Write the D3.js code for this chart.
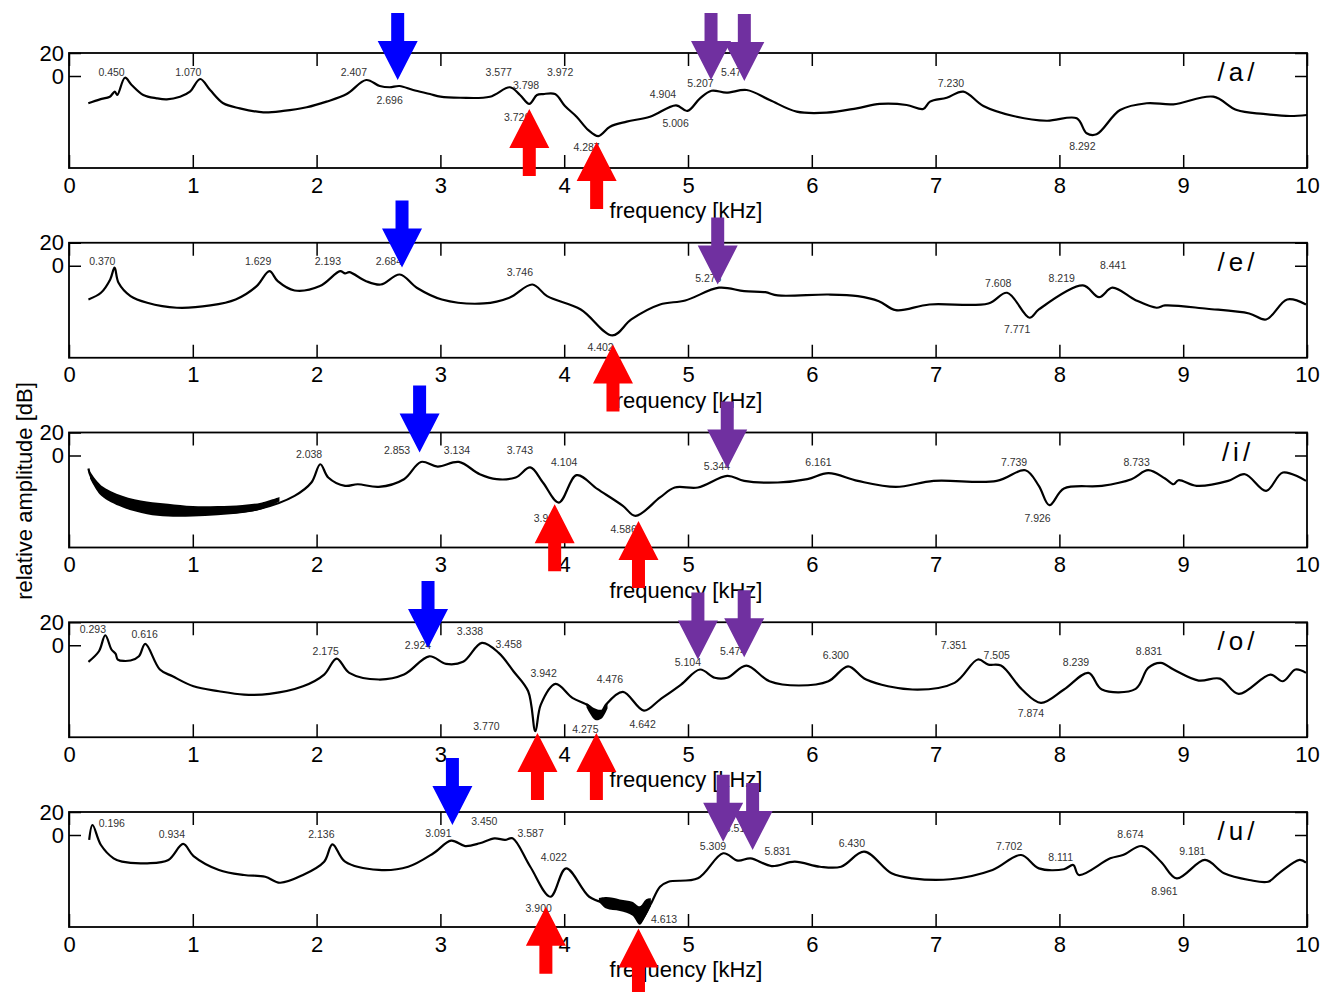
<!DOCTYPE html>
<html><head><meta charset="utf-8">
<script src="https://cdn.jsdelivr.net/npm/d3@7"></script>
<style>body{margin:0;background:#fff}</style></head>
<body>
<svg id="c" width="1320" height="992"></svg>
<script>
// ---------------- DATA ----------------
const freqTicks = [0,1,2,3,4,5,6,7,8,9,10];
const dbTicks = [0,20];
const vowels = ["/a/","/e/","/i/","/o/","/u/"];
const xTitle = "frequency [kHz]";
const yTitle = "relative amplitude [dB]";

// spectra: [kHz, dB]
const curveA = [[0.156,-23.7],[0.25,-20.3],[0.33,-18],[0.37,-13.6],[0.39,-16.5],[0.452,-1.5],[0.506,-7.8],[0.60,-16.5],[0.708,-19.4],[0.79,-20.3],[0.897,-18],[0.977,-13.6],[1.06,-2.6],[1.14,-12.2],[1.246,-23.7],[1.38,-28.1],[1.57,-31.6],[1.73,-30.4],[1.92,-27.2],[2.08,-22.3],[2.243,-15.7],[2.40,-3.5],[2.51,-8.7],[2.59,-9.8],[2.67,-8.7],[2.78,-12.2],[2.916,-15.7],[3.0,-18],[3.16,-18.9],[3.40,-18],[3.562,-9.8],[3.643,-16.5],[3.718,-24.3],[3.78,-16.5],[3.83,-15.7],[3.926,-15.7],[4.006,-26.1],[4.10,-35.4],[4.195,-47],[4.276,-52.2],[4.37,-44.1],[4.505,-39.7],[4.693,-35.4],[4.903,-25.5],[4.995,-30.4],[5.097,-19.4],[5.19,-12.8],[5.31,-14.5],[5.474,-12.2],[5.66,-20.9],[5.878,-31],[6.12,-31.9],[6.363,-28.1],[6.55,-24.3],[6.766,-25.2],[6.90,-28.7],[6.955,-22.3],[7.09,-18.9],[7.224,-13.6],[7.386,-26.1],[7.628,-34.8],[7.897,-38.9],[8.14,-36.8],[8.22,-49.8],[8.30,-50.7],[8.49,-29.6],[8.705,-23.7],[8.92,-24.6],[9.243,-18],[9.432,-29.6],[9.647,-33],[9.863,-34.8],[10.0,-33.9]];
const curveE = [[0.157,-29.3],[0.258,-23.5],[0.333,-11.9],[0.368,-1.7],[0.40,-14.8],[0.497,-26.4],[0.632,-32.2],[0.871,-36.5],[1.142,-34.5],[1.346,-29.3],[1.516,-17.7],[1.619,-4.7],[1.686,-13.4],[1.822,-21.5],[2.027,-17.7],[2.19,-4.7],[2.23,-6.7],[2.264,-5.6],[2.40,-13.4],[2.519,-16.3],[2.672,-7.6],[2.809,-19.1],[3.012,-29.3],[3.352,-32.8],[3.557,-27.8],[3.743,-16.3],[3.862,-26.4],[4.134,-38],[4.39,-60.6],[4.542,-46.7],[4.774,-33.7],[4.978,-30.2],[5.25,-19.1],[5.454,-22.1],[5.624,-23],[5.725,-25.8],[6.134,-25],[6.372,-26.4],[6.542,-30.8],[6.678,-38.6],[6.95,-33.7],[7.426,-32.8],[7.578,-23.5],[7.759,-45.2],[7.834,-38],[8.19,-17.1],[8.32,-27.3],[8.428,-19.1],[8.616,-29.9],[8.785,-36.5],[8.853,-34.5],[9.193,-37.4],[9.533,-41.5],[9.67,-46.7],[9.84,-29.3],[9.992,-33.7]];
const curveI = [[0.157,-11.3],[0.174,-17.7],[0.258,-30.8],[0.428,-40.9],[0.632,-45.2],[0.973,-48.2],[1.313,-49.6],[1.55,-46.1],[1.822,-35.1],[1.958,-23.5],[2.03,-7.6],[2.094,-19.1],[2.23,-26.4],[2.332,-25],[2.502,-27.3],[2.706,-20.6],[2.843,-5.6],[2.978,-9.6],[3.149,-5.6],[3.318,-16.3],[3.454,-20.6],[3.608,-19.1],[3.726,-10.4],[3.828,-23.5],[3.957,-40.9],[4.10,-17.1],[4.27,-29.3],[4.474,-43.8],[4.576,-52.5],[4.774,-36.5],[4.893,-27.8],[5.08,-27.8],[5.317,-17.7],[5.454,-22.1],[5.725,-23.5],[5.964,-20.6],[6.134,-15.4],[6.372,-22.1],[6.678,-27.3],[6.984,-22.1],[7.494,-22.1],[7.725,-12.8],[7.834,-26.4],[7.919,-43.2],[8.037,-28.7],[8.343,-26.4],[8.582,-20.6],[8.717,-12.8],[8.853,-20],[8.922,-25],[8.962,-21.5],[9.108,-26.4],[9.363,-22.1],[9.499,-16.3],[9.67,-30.8],[9.805,-14.8],[9.992,-22.1]];
const curveO = [[0.157,-14.4],[0.242,-5.2],[0.293,8.7],[0.343,-3.7],[0.377,-7.5],[0.394,-12.4],[0.497,-13.3],[0.565,-9.6],[0.616,1.2],[0.734,-21.1],[0.837,-27],[1.006,-35.7],[1.211,-40],[1.414,-42.9],[1.619,-42.3],[1.89,-35.7],[2.061,-25.5],[2.162,-11.6],[2.264,-24],[2.502,-29.8],[2.706,-25.5],[2.91,-9.6],[3.046,-16.2],[3.183,-14.4],[3.335,2.1],[3.471,-6.6],[3.59,-22.6],[3.709,-40],[3.767,-74.8],[3.811,-51.6],[3.93,-33.6],[4.066,-45.7],[4.202,-53],[4.277,-63.1],[4.338,-51.6],[4.474,-40.5],[4.644,-56.8],[4.774,-47.2],[4.944,-34.2],[5.097,-21.1],[5.216,-28.3],[5.317,-28.3],[5.471,-17.7],[5.658,-31.3],[5.896,-35],[6.134,-31.3],[6.293,-18.3],[6.439,-29.8],[6.813,-38.5],[7.153,-32.7],[7.341,-12.4],[7.426,-16.8],[7.528,-17.7],[7.698,-38.5],[7.851,-50.1],[8.037,-38.5],[8.235,-24],[8.343,-38.5],[8.616,-37.9],[8.717,-19.7],[8.82,-15.3],[8.922,-21.1],[9.125,-30.7],[9.296,-29],[9.448,-42.3],[9.704,-25.5],[9.805,-31.3],[9.907,-21.1],[9.992,-24]];
const curveU = [[0.163,-4.3],[0.19,8.7],[0.258,-8.7],[0.36,-20.3],[0.428,-23.2],[0.632,-24.6],[0.803,-21.7],[0.922,-7.8],[1.006,-18.3],[1.211,-30.4],[1.414,-34.8],[1.585,-36.3],[1.704,-41.5],[1.89,-34.8],[2.061,-23.2],[2.128,-8.1],[2.23,-23.2],[2.502,-30.4],[2.74,-27.6],[2.944,-15.9],[3.087,-4.9],[3.2,-9.6],[3.318,-7.2],[3.437,-2.9],[3.522,-4.3],[3.583,-2.9],[3.726,-27.6],[3.889,-53.7],[4.015,-29],[4.202,-53.7],[4.338,-59.4],[4.542,-63.7],[4.61,-75.4],[4.695,-60.9],[4.774,-45],[4.842,-40.6],[5.08,-37.7],[5.284,-15.9],[5.403,-22.3],[5.505,-20.3],[5.675,-27],[5.862,-23.2],[6.066,-27.6],[6.236,-27.6],[6.423,-14.5],[6.644,-33.3],[6.813,-37.7],[7.12,-38.5],[7.46,-30.4],[7.691,-17.4],[7.834,-29],[8.037,-29.8],[8.112,-26.1],[8.157,-34.8],[8.411,-20.3],[8.513,-17.4],[8.667,-9.6],[8.82,-23.2],[8.948,-37.7],[9.176,-21.7],[9.33,-33.3],[9.533,-39.1],[9.687,-40.6],[9.773,-33.3],[9.94,-21.7],[9.992,-24.1]];

// noisy regions: [kHz, upper dB, lower dB]
const bandA = [];
const bandE = [];
const bandI = [[0.17,-14,-20],[0.26,-26,-35],[0.43,-35,-45],[0.63,-40,-51],[0.8,-42,-53],[1.0,-44,-53],[1.2,-44,-52],[1.4,-43,-50],[1.55,-41,-47],[1.7,-36,-40]];
const bandO = [[4.18,-50,-54],[4.25,-55,-65],[4.30,-56,-64],[4.35,-50,-55]];
const bandU = [[4.28,-55,-58],[4.34,-54,-64],[4.45,-56,-66],[4.55,-58,-70],[4.61,-62,-78],[4.66,-56,-70],[4.70,-55,-62]];

// peak / dip labels: [text, kHz of right edge, dB of baseline]
const labelsA = [["0.450",0.450,0],["1.070",1.070,0],["2.407",2.407,0],["2.696",2.696,-24.3],["3.577",3.577,0],["3.798",3.798,-11.3],["3.972",4.073,0],["3.726",3.726,-38.9],["4.287",4.287,-65],["4.904",4.904,-19.4],["5.006",5.006,-44.6],["5.207",5.207,-9.6],["5.479",5.479,0],["7.230",7.230,-9.6],["8.292",8.292,-64.3]];
const labelsE = [["0.370",0.375,0.5],["1.629",1.634,0.5],["2.193",2.197,0.5],["2.684",2.69,0.5],["3.746",3.748,-8.7],["4.402",4.40,-73.9],["5.276",5.27,-13.9],["7.608",7.612,-18.3],["7.771",7.765,-58.3],["8.219",8.125,-13.9],["8.441",8.54,-3.2]];
const labelsI = [["2.038",2.045,-2.3],["2.853",2.756,1.4],["3.134",3.24,1.4],["3.743",3.748,1.4],["4.104",4.106,-8.7],["3.918",3.966,-58],["4.586",4.586,-67.6],["5.344",5.34,-13],["6.161",6.16,-8.7],["7.739",7.74,-8.7],["7.926",7.93,-57.4],["8.733",8.73,-8.7]];
const labelsO = [["0.293",0.299,11],["0.616",0.717,6.4],["2.175",2.18,-8.1],["2.924",2.925,-2.9],["3.338",3.345,8.7],["3.458",3.658,-2.3],["3.942",3.94,-27.5],["3.770",3.478,-73.3],["4.476",4.475,-32.4],["4.275",4.277,-76.2],["4.642",4.74,-71.6],["5.104",5.105,-17.9],["5.474",5.47,-8.1],["6.300",6.30,-12.2],["7.351",7.253,-3.5],["7.505",7.60,-12.2],["7.874",7.876,-62.3],["8.239",8.24,-17.9],["8.831",8.83,-8.1]];
const labelsU = [["0.196",0.452,6.7],["0.934",0.937,-2.9],["2.136",2.145,-2.9],["3.091",3.09,-2],["3.450",3.461,8.7],["3.587",3.835,-2],["4.022",4.022,-22.9],["3.900",3.90,-67.2],["4.613",4.913,-76.5],["5.309",5.308,-13],["5.519",5.51,2.3],["5.831",5.83,-17.4],["6.430",6.43,-10.7],["7.702",7.70,-13],["8.111",8.11,-22.3],["8.674",8.68,-2.6],["9.181",9.18,-17.4],["8.961",8.955,-52.2]];

// arrows: [kHz, dB of tip, kind]
const arrowsA = [[2.655,-3.5,"blue"],[5.186,-3.5,"purple"],[5.455,-4.3,"purple"],[3.718,-28.7,"red"],[4.262,-57.4,"red"]];
const arrowsE = [[2.69,-1.5,"blue"],[5.24,-16.3,"purple"],[4.394,-68.4,"red"]];
const arrowsI = [[2.832,2.6,"blue"],[5.317,-11.3,"purple"],[3.923,-42.3,"red"],[4.60,-56.9,"red"]];
const arrowsO = [[2.90,-2.3,"blue"],[5.08,-12.4,"purple"],[5.454,-10.4,"purple"],[3.784,-76.2,"red"],[4.26,-76.2,"red"]];
const arrowsU = [[3.097,8.7,"blue"],[5.284,-5.8,"purple"],[5.522,-13,"purple"],[3.852,-62.3,"red"],[4.60,-81.2,"red"]];

// ---------------- DRAW ----------------
const panels = [
  {curve:curveA, band:bandA, labels:labelsA, arrows:arrowsA},
  {curve:curveE, band:bandE, labels:labelsE, arrows:arrowsE},
  {curve:curveI, band:bandI, labels:labelsI, arrows:arrowsI},
  {curve:curveO, band:bandO, labels:labelsO, arrows:arrowsO},
  {curve:curveU, band:bandU, labels:labelsU, arrows:arrowsU}
];
const arrowColor = {blue:"#0000ff", purple:"#7030a0", red:"#ff0000"};
const FONT = "'Liberation Sans', Arial, sans-serif";
const svg = d3.select("#c");
const left = 69, right = 1307, panelH = 115, top0 = 53, step = 189.75;
const x = d3.scaleLinear().domain([0,10]).range([left,right]);
const arrowLayer = [];

panels.forEach((p,i) => {
  const top = top0 + i*step;
  const y = d3.scaleLinear().domain([-80,20]).range([top+panelH, top]);
  const g = svg.append("g");

  const styleAxis = a => {
    a.select(".domain").remove();
    a.selectAll(".tick line").attr("stroke","#000").attr("stroke-width",1.5);
    a.selectAll("text").attr("font-family",FONT).attr("font-size",22).attr("fill","#000");
  };
  g.append("g").attr("transform",`translate(0,${top+panelH})`)
    .call(d3.axisBottom(x).tickValues(freqTicks).tickSizeInner(-13).tickSizeOuter(0).tickPadding(9).tickFormat(d3.format("d")))
    .call(styleAxis);
  g.append("g").attr("transform",`translate(0,${top})`)
    .call(d3.axisTop(x).tickValues(freqTicks).tickSizeInner(-13).tickSizeOuter(0).tickFormat(""))
    .call(styleAxis);
  g.append("g").attr("transform",`translate(${left},0)`)
    .call(d3.axisLeft(y).tickValues(dbTicks).tickSizeInner(-12).tickSizeOuter(0).tickPadding(5).tickFormat(d3.format("d")))
    .call(styleAxis);
  g.append("g").attr("transform",`translate(${right},0)`)
    .call(d3.axisRight(y).tickValues(dbTicks).tickSizeInner(-12).tickSizeOuter(0).tickFormat(""))
    .call(styleAxis);

  g.append("rect").attr("x",left).attr("y",top).attr("width",right-left).attr("height",panelH)
    .attr("fill","none").attr("stroke","#000").attr("stroke-width",1.8);

  if (p.band.length) {
    g.append("path").datum(p.band)
      .attr("d", d3.area().curve(d3.curveCatmullRom.alpha(0.5)).x(d=>x(d[0])).y0(d=>y(d[2])).y1(d=>y(d[1])))
      .attr("fill","#000");
  }
  g.append("path").datum(p.curve)
    .attr("d", d3.line().curve(d3.curveCatmullRom.alpha(0.5)).x(d=>x(d[0])).y(d=>y(d[1])))
    .attr("fill","none").attr("stroke","#000").attr("stroke-width",2.2).attr("stroke-linejoin","round");

  g.selectAll("text.pk").data(p.labels).enter().append("text")
    .attr("class","pk").attr("x",d=>x(d[1])).attr("y",d=>y(d[2]))
    .attr("text-anchor","end").attr("font-family",FONT).attr("font-size",10.5).attr("fill","#333")
    .text(d=>d[0]);

  g.append("text").attr("x",right-69).attr("y",top+28).attr("text-anchor","middle")
    .attr("font-family",FONT).attr("font-size",26).attr("letter-spacing",4).attr("fill","#000")
    .text(vowels[i]);

  g.append("text").attr("x",(left+right)/2-2).attr("y",top+panelH+50).attr("text-anchor","middle")
    .attr("font-family",FONT).attr("font-size",22).attr("fill","#000").text(xTitle);

  p.arrows.forEach(a => arrowLayer.push({tx:x(a[0]), ty:y(a[1]), kind:a[2]}));
});

svg.append("text").attr("transform",`translate(24,491) rotate(-90)`)
  .attr("text-anchor","middle").attr("dominant-baseline","central")
  .attr("font-family",FONT).attr("font-size",22).attr("fill","#000").text(yTitle);

const HL = 39, TL = 67, HW = 20, SW = 6.5;
svg.append("g").selectAll("polygon").data(arrowLayer).enter().append("polygon")
  .attr("points", d => {
    const s = d.kind === "red" ? 1 : -1; // red points up (body below tip)
    const pts = [[0,0],[-HW,HL],[-SW,HL],[-SW,TL],[SW,TL],[SW,HL],[HW,HL]];
    return pts.map(q => [d.tx+q[0], d.ty+s*q[1]].join(",")).join(" ");
  })
  .attr("fill", d => arrowColor[d.kind]);
</script>
</body></html>
